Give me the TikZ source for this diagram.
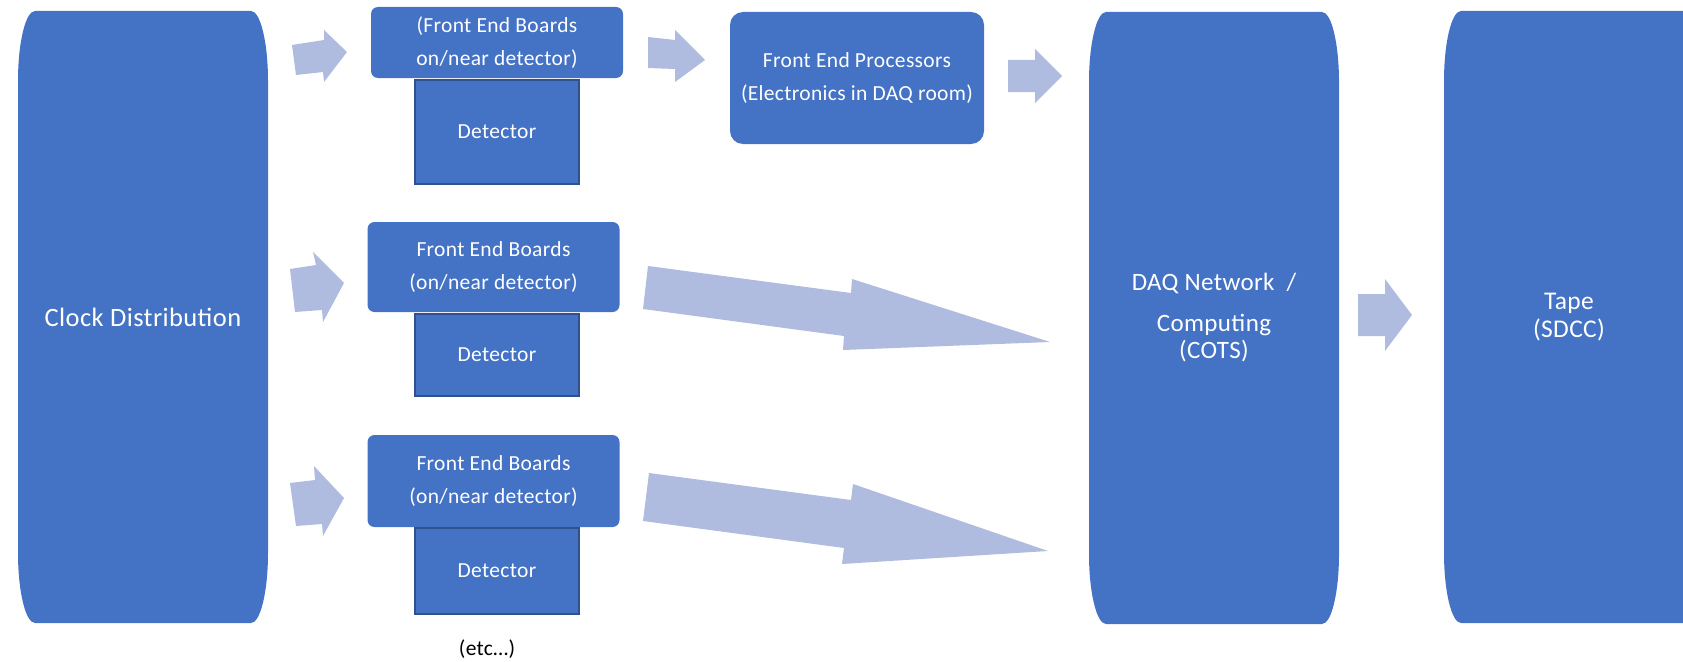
\documentclass[tikz,border=0pt]{standalone}
\usepackage{fontspec}
\setmainfont{Carlito}[LetterSpace=1.5]
\usetikzlibrary{calc}
\pgfdeclarelayer{bg}
\pgfsetlayers{bg,main}
\definecolor{boxblue}{HTML}{4472C4}
\definecolor{arrowblue}{HTML}{AFBCDF}
\definecolor{detborder}{HTML}{2F528F}
\begin{document}
\begin{tikzpicture}[x=1pt,y=-1pt,
  every node/.style={text=white, inner sep=0pt, outer sep=0pt, align=center},
  tallbox/.style={minimum width=250pt, minimum height=612pt},
  febox/.style={fill=boxblue, rounded corners=7pt, minimum width=252pt, font=\fontsize{21.5}{33}\selectfont},
  fepbox/.style={fill=boxblue, rounded corners=13pt, minimum width=254pt, minimum height=132pt, font=\fontsize{21.5}{33}\selectfont},
  detbox/.style={fill=boxblue, draw=detborder, line width=2pt, minimum width=164pt, font=\fontsize{21.5}{26}\selectfont},
  blockarrow/.style={fill=arrowblue}
]
\useasboundingbox (0,0) rectangle (1683,661);

% tall boxes (text nodes, shapes drawn on background layer)
\node[tallbox, font=\fontsize{26.5}{30}\selectfont] (clk) at (143,317) {Clock Distribution};
\node[tallbox, font=\fontsize{25}{27}\selectfont] (daq) at (1214,318) {DAQ Network \ /\\[14pt]Computing\\(COTS)};
\node[tallbox, font=\fontsize{25.5}{28}\selectfont] (tape) at (1569,317) {Tape\\(SDCC)};

\begin{pgfonlayer}{bg}
\clip (0,0) rectangle (1683,661);
\foreach \n/\e in {clk/0,daq/0,tape/60} {
  \fill[boxblue]
    ($(\n.north west)+(17,0)$) -- ($(\n.north east)+(\e-17,0)$)
    .. controls ($(\n.north east)+(\e-7.6,0)$) and ($(\n.north east)+(\e,31.3)$) .. ($(\n.north east)+(\e,70)$)
    -- ($(\n.south east)+(\e,-70)$)
    .. controls ($(\n.south east)+(\e,-31.3)$) and ($(\n.south east)+(\e-7.6,0)$) .. ($(\n.south east)+(\e-17,0)$)
    -- ($(\n.south west)+(17,0)$)
    .. controls ($(\n.south west)+(7.6,0)$) and ($(\n.south west)+(0,-31.3)$) .. ($(\n.south west)+(0,-70)$)
    -- ($(\n.north west)+(0,70)$)
    .. controls ($(\n.north west)+(0,31.3)$) and ($(\n.north west)+(7.6,0)$) .. cycle;
}
\end{pgfonlayer}

% front end boards and detectors
\node[febox, minimum height=71pt] (feb1) at (497,42.5) {(Front End Boards\\on/near detector)};
\node[detbox, minimum height=104pt] (det1) at (497,132) {Detector};
\node[febox, minimum height=90pt] (feb2) at (493.5,267) {Front End Boards\\(on/near detector)};
\node[detbox, minimum height=82pt] (det2) at (497,355) {Detector};
\node[febox, minimum height=92pt] (feb3) at (493.5,481) {Front End Boards\\(on/near detector)};
\node[detbox, minimum height=86pt] (det3) at (497,571) {Detector};
\node[text=black, font=\fontsize{21.5}{26}\selectfont] (etc) at (487,649) {(etc…)};

% front end processors
\node[fepbox] (fep) at (857,78) {Front End Processors\\(Electronics in DAQ room)};

% block arrows
\fill[blockarrow] (292,45) -- (324,40) -- (324,30) -- (347,52) -- (324,82) -- (323,72) -- (296,75) -- cycle;
\fill[blockarrow] (290,269) -- (316,265) -- (313,252) -- (344,283) -- (323,322) -- (322,310) -- (295,312) -- cycle;
\fill[blockarrow] (290,483) -- (315,480) -- (314,466) -- (344,498) -- (323,536) -- (322,524) -- (296,526) -- cycle;
\fill[blockarrow] (648,37) -- (675,40) -- (675,30) -- (705,60) -- (675,82) -- (675,69) -- (648,68) -- cycle;
\fill[blockarrow] (1008,60) -- (1035,60) -- (1035,49) -- (1062,76) -- (1035,103) -- (1035,92) -- (1008,92) -- cycle;
\fill[blockarrow] (648,266) -- (851,293) -- (852,279) -- (1050,342) -- (843,350) -- (844,336) -- (643,309) -- cycle;
\fill[blockarrow] (649,473) -- (851,500) -- (853,484) -- (1048,551) -- (842,564) -- (844,548) -- (643,521) -- cycle;
\fill[blockarrow] (1358,294) -- (1385,294) -- (1385,279) -- (1412,315) -- (1385,351) -- (1385,336) -- (1358,336) -- cycle;
\end{tikzpicture}
\end{document}
